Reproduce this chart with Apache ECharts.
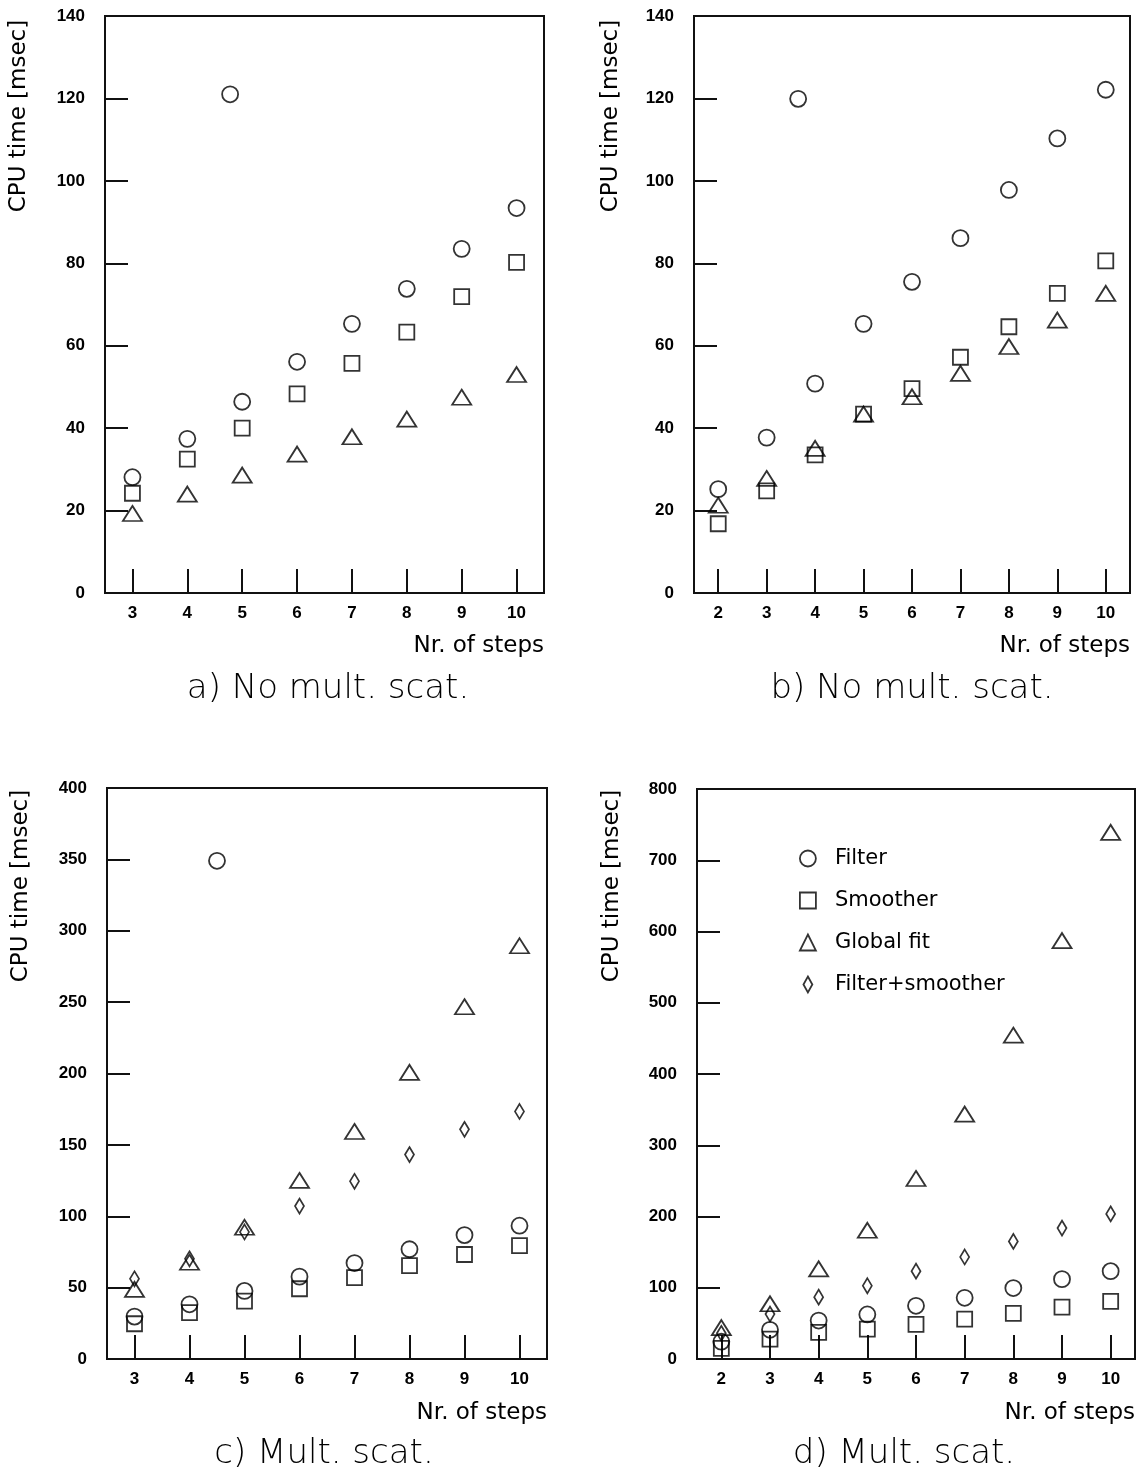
<!DOCTYPE html>
<html>
<head>
<meta charset="utf-8">
<script src="https://cdn.jsdelivr.net/npm/echarts@6/dist/echarts.min.js"></script>
<style>
html,body{margin:0;padding:0;background:#fff;}
#chart{width:1145px;height:1476px;}
</style>
</head>
<body>
<div id="chart"></div>
<script>
// ---------------- DATA ----------------
const stepsA = [3, 4, 5, 6, 7, 8, 9, 10];
const filterA = [28.1, 37.4, 46.4, 56.1, 65.3, 73.8, 83.5, 93.4];
const smootherA = [24.2, 32.5, 40.0, 48.3, 55.7, 63.3, 71.9, 80.2];
const globalFitA = [19.3, 24.0, 28.6, 33.7, 37.9, 42.2, 47.5, 53.0];
const strayMarkerA = [[4.78, 121]];

const stepsB = [2, 3, 4, 5, 6, 7, 8, 9, 10];
const filterB = [25.2, 37.7, 50.8, 65.3, 75.5, 86.1, 97.8, 110.3, 122.1];
const smootherB = [16.8, 24.8, 33.5, 43.4, 49.6, 57.2, 64.6, 72.7, 80.6];
const globalFitB = [21.3, 27.8, 35.1, 43.4, 47.6, 53.3, 59.8, 66.2, 72.7];
const strayMarkerB = [[3.65, 119.9]];

const stepsC = [3, 4, 5, 6, 7, 8, 9, 10];
const filterC = [29.7, 38.3, 47.7, 57.7, 67.2, 76.9, 86.8, 93.4];
const smootherC = [24.7, 32.5, 40.5, 49.2, 57.0, 65.4, 73.2, 79.4];
const globalFitC = [48.8, 67.8, 92.3, 125.1, 159.4, 200.8, 246.8, 289.5];
const filterSmootherC = [56.2, 70.2, 89.0, 107.1, 124.5, 143.2, 160.9, 173.4];
const strayMarkerC = [[4.5, 349]];

const stepsD = [2, 3, 4, 5, 6, 7, 8, 9, 10];
const filterD = [24.3, 41.0, 54.0, 62.5, 74.7, 85.9, 99.6, 112.1, 123.3];
const smootherD = [15.0, 28.0, 37.5, 42.0, 48.6, 56.0, 64.1, 72.8, 80.9];
const globalFitD = [44.0, 77.5, 126.5, 180.6, 253.4, 343.7, 454.5, 587.2, 739.1];
const filterSmootherD = [36.0, 63.0, 86.8, 102.8, 123.3, 143.2, 165.0, 183.7, 203.6];

const xTicksA = [3, 4, 5, 6, 7, 8, 9, 10];
const xTicksB = [2, 3, 4, 5, 6, 7, 8, 9, 10];
const seriesNames = ['Filter', 'Smoother', 'Global fit', 'Filter+smoother'];
const panelTitles = ['a) No mult. scat.', 'b) No mult. scat.', 'c) Mult. scat.', 'd) Mult. scat.'];
const yAxisTitle = 'CPU time [msec]';
const xAxisTitle = 'Nr. of steps';

// ---------------- CHART ----------------
const chart = echarts.init(document.getElementById('chart'), null, {renderer: 'canvas'});

const grids = [
  {left: 105, top: 16, width: 439, height: 577},
  {left: 694, top: 16, width: 436, height: 577},
  {left: 107, top: 788, width: 440, height: 571},
  {left: 697, top: 789, width: 438, height: 570}
];
const xRanges = [[2.5, 10.5], [1.5, 10.5], [2.5, 10.5], [1.5, 10.5]];
const xTickSets = [xTicksA, xTicksB, xTicksA, xTicksB];
const yRanges = [[0, 140, 20], [0, 140, 20], [0, 400, 50], [0, 800, 100]];

const tickFont = {color: '#000', fontFamily: 'Liberation Sans', fontWeight: 'bold', fontSize: 17};
const lineCol = '#111';

const xAxes = grids.map((g, i) => ({
  gridIndex: i, type: 'value', min: xRanges[i][0], max: xRanges[i][1],
  axisLine: {show: true, lineStyle: {color: lineCol, width: 2}},
  axisTick: {show: true, inside: true, length: 24, customValues: xTickSets[i], lineStyle: {color: lineCol, width: 2}},
  axisLabel: Object.assign({customValues: xTickSets[i], margin: 12}, tickFont),
  splitLine: {show: false}
}));
const yAxes = grids.map((g, i) => ({
  gridIndex: i, type: 'value', min: yRanges[i][0], max: yRanges[i][1], interval: yRanges[i][2],
  axisLine: {show: true, lineStyle: {color: lineCol, width: 2}},
  axisTick: {show: true, inside: true, length: 23, lineStyle: {color: lineCol, width: 2}},
  axisLabel: Object.assign({margin: 20}, tickFont),
  splitLine: {show: false}
}));

const baseItem = {color: 'rgba(0,0,0,0)', borderColor: '#000', borderWidth: 1.8};
const symbols = {
  'Filter': {symbol: 'circle', symbolSize: 16},
  'Smoother': {symbol: 'rect', symbolSize: 15},
  'Global fit': {symbol: 'triangle', symbolSize: [19, 15]},
  'Filter+smoother': {symbol: 'diamond', symbolSize: [9, 15]}
};
function pairs(xs, ys) { return xs.map((x, k) => [x, ys[k]]); }
function mk(name, idx, data) {
  return Object.assign({
    name: name, type: 'scatter', xAxisIndex: idx, yAxisIndex: idx,
    data: data, itemStyle: baseItem, emphasis: {disabled: true}, z: 3
  }, symbols[name]);
}

const series = [
  mk('Filter', 0, pairs(stepsA, filterA)),
  mk('Smoother', 0, pairs(stepsA, smootherA)),
  mk('Global fit', 0, pairs(stepsA, globalFitA)),
  Object.assign(mk('Filter', 0, strayMarkerA), {name: 'marker a'}),
  mk('Filter', 1, pairs(stepsB, filterB)),
  mk('Smoother', 1, pairs(stepsB, smootherB)),
  mk('Global fit', 1, pairs(stepsB, globalFitB)),
  Object.assign(mk('Filter', 1, strayMarkerB), {name: 'marker b'}),
  mk('Filter', 2, pairs(stepsC, filterC)),
  mk('Smoother', 2, pairs(stepsC, smootherC)),
  mk('Global fit', 2, pairs(stepsC, globalFitC)),
  mk('Filter+smoother', 2, pairs(stepsC, filterSmootherC)),
  Object.assign(mk('Filter', 2, strayMarkerC), {name: 'marker c'}),
  mk('Filter', 3, pairs(stepsD, filterD)),
  mk('Smoother', 3, pairs(stepsD, smootherD)),
  mk('Global fit', 3, pairs(stepsD, globalFitD)),
  mk('Filter+smoother', 3, pairs(stepsD, filterSmootherD))
];

const textFont = 'DejaVu Sans';
const yTitlePos = [[19, 116], [611, 116], [21, 886], [612, 886]];
const xTitlePos = [[544, 646], [1130, 646], [547, 1413], [1135, 1413]];
const panelTitlePos = [[328, 689], [912, 689], [324, 1454], [904, 1454]];
const graphics = [];
for (let i = 0; i < 4; i++) {
  graphics.push({type: 'text', x: yTitlePos[i][0], y: yTitlePos[i][1], rotation: Math.PI / 2,
    style: {text: yAxisTitle, fill: '#000', font: '23px "' + textFont + '"', textAlign: 'center', textVerticalAlign: 'middle'}});
  graphics.push({type: 'text', x: xTitlePos[i][0], y: xTitlePos[i][1],
    style: {text: xAxisTitle, fill: '#000', font: '23px "' + textFont + '"', textAlign: 'right', textVerticalAlign: 'middle'}});
  graphics.push({type: 'text', x: panelTitlePos[i][0], y: panelTitlePos[i][1],
    style: {text: panelTitles[i], fill: '#000', font: '200 34px "' + textFont + '"', textAlign: 'center', textVerticalAlign: 'middle'}});
}

chart.setOption({
  animation: false,
  backgroundColor: '#fff',
  grid: grids.map(g => Object.assign({show: true, borderColor: lineCol, borderWidth: 2, backgroundColor: 'transparent', containLabel: false}, g)),
  xAxis: xAxes,
  yAxis: yAxes,
  legend: {
    orient: 'vertical', left: 799, top: 848, padding: 0, itemGap: 21,
    itemWidth: 16, itemHeight: 16, selectedMode: false,
    data: [
      {name: 'Filter', icon: 'circle'},
      {name: 'Smoother', icon: 'rect'},
      {name: 'Global fit', icon: 'triangle'},
      {name: 'Filter+smoother', icon: 'path://M5,0 L10,9 L5,18 L0,9 Z'}
    ],
    itemStyle: {color: 'rgba(0,0,0,0)', borderColor: '#000', borderWidth: 1.8},
    textStyle: {color: '#000', fontFamily: textFont, fontSize: 21, padding: [0, 0, 0, 14]}
  },
  graphic: graphics,
  series: series
});
</script>
</body>
</html>
